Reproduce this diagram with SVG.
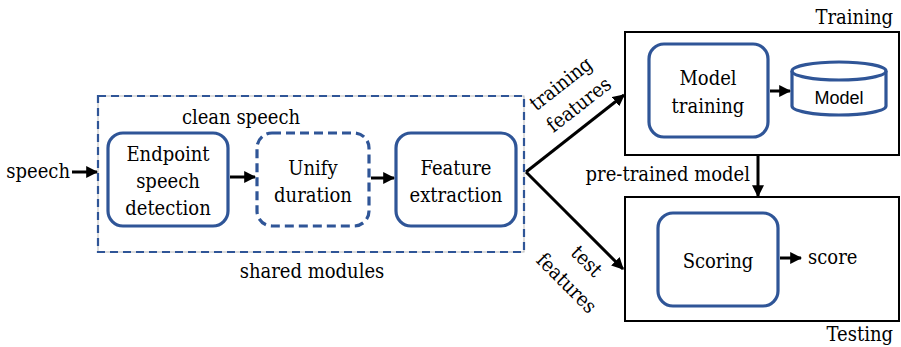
<svg xmlns="http://www.w3.org/2000/svg" width="901" height="347" viewBox="0 0 901 347">
<defs>
<marker id="ah" viewBox="0 0 10 10" refX="9" refY="5" markerWidth="4" markerHeight="4" orient="auto" markerUnits="strokeWidth">
<path d="M0,0 L10,5 L0,10 z" fill="#000"/>
</marker>
</defs>
<style>
text{fill:#000;}
.t{font-family:'DejaVu Serif Condensed','DejaVu Serif','Liberation Serif',serif;font-stretch:condensed;font-size:20px;}
.s{font-family:'Liberation Sans',Arial,sans-serif;font-size:18px;}
.blue{fill:#fff;stroke:#2F5597;stroke-width:3.2;}
.bluedash{fill:#fff;stroke:#2F5597;stroke-width:3.2;stroke-dasharray:9 5;}
.frame{fill:#fff;stroke:#000;stroke-width:2;}
.conn{fill:none;stroke:#000;stroke-width:3;marker-end:url(#ah);}
</style>
<rect width="901" height="347" fill="#fff"/>

<g id="shared">
<rect x="98" y="96" width="426" height="156" fill="none" stroke="#bbb" stroke-width="1"/>
<rect x="98" y="96" width="426" height="156" fill="none" stroke="#2F5597" stroke-width="2.2" stroke-dasharray="8 5"/>
<text class="t" x="241" y="124" text-anchor="middle">clean speech</text>
<text class="t" x="312" y="278" text-anchor="middle">shared modules</text>
</g>

<g id="training-frame">
<rect class="frame" x="625" y="32" width="274" height="123"/>
<text class="t" x="893" y="24" text-anchor="end">Training</text>
</g>
<g id="testing-frame">
<rect class="frame" x="625" y="197" width="274" height="124"/>
<text class="t" x="893" y="341" text-anchor="end">Testing</text>
</g>

<g id="endpoint">
<rect class="blue" x="108" y="133" width="120" height="93" rx="15"/>
<text class="t" x="168" y="161" text-anchor="middle">Endpoint</text>
<text class="t" x="168" y="188" text-anchor="middle">speech</text>
<text class="t" x="168" y="215" text-anchor="middle">detection</text>
</g>
<g id="unify">
<rect class="bluedash" x="257" y="133" width="112" height="93" rx="15"/>
<text class="t" x="313" y="175" text-anchor="middle">Unify</text>
<text class="t" x="313" y="202" text-anchor="middle">duration</text>
</g>
<g id="feature">
<rect class="blue" x="396" y="133" width="120" height="93" rx="15"/>
<text class="t" x="456" y="175" text-anchor="middle">Feature</text>
<text class="t" x="456" y="202" text-anchor="middle">extraction</text>
</g>
<g id="model-training">
<rect class="blue" x="649" y="44" width="119" height="93" rx="15"/>
<text class="t" x="708" y="85" text-anchor="middle">Model</text>
<text class="t" x="708" y="113" text-anchor="middle">training</text>
</g>
<g id="model-db">
<path d="M792,71 L792,106 A47,9 0 0 0 886,106 L886,71" fill="#fff" stroke="#2F5597" stroke-width="3.2"/>
<ellipse cx="839" cy="71" rx="47" ry="9" fill="#fff" stroke="#2F5597" stroke-width="3.2"/>
<text class="s" x="839" y="104" text-anchor="middle">Model</text>
</g>
<g id="scoring">
<rect class="blue" x="658" y="213" width="120" height="93" rx="15"/>
<text class="t" x="718" y="268" text-anchor="middle">Scoring</text>
</g>

<g id="labels">
<text class="t" x="70" y="178" text-anchor="end">speech</text>
<text class="t" x="808" y="264">score</text>
<text class="t" x="750" y="181" text-anchor="end">pre-trained model</text>
<text class="t" x="0" y="0" text-anchor="middle" transform="translate(565,89) rotate(-38)">training</text>
<text class="t" x="0" y="0" text-anchor="middle" transform="translate(583,110) rotate(-38)">features</text>
<text class="t" x="0" y="0" text-anchor="middle" transform="translate(582,266) rotate(45)">test</text>
<text class="t" x="0" y="0" text-anchor="middle" transform="translate(562,288) rotate(45)">features</text>
</g>

<g id="connectors">
<line class="conn" x1="72" y1="172" x2="97" y2="172"/>
<line class="conn" x1="230" y1="177" x2="255" y2="177"/>
<line class="conn" x1="371" y1="178" x2="394" y2="178"/>
<line class="conn" x1="526" y1="172" x2="624" y2="95"/>
<line class="conn" x1="526" y1="172" x2="623" y2="269"/>
<line class="conn" x1="770" y1="91" x2="790" y2="91"/>
<line class="conn" x1="758" y1="155" x2="758" y2="196"/>
<line class="conn" x1="780" y1="258" x2="801" y2="258"/>
</g>
</svg>
